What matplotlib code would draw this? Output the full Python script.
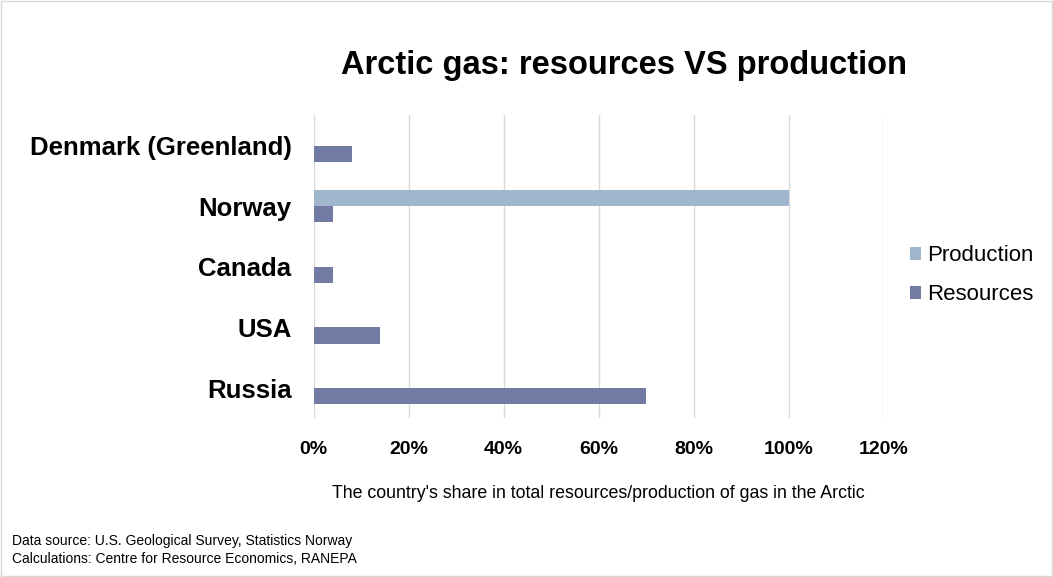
import matplotlib.pyplot as plt
import numpy as np

countries = ['Russia', 'USA', 'Canada', 'Norway', 'Denmark (Greenland)']
resources = [70, 14, 4, 4, 8]
production = [0, 0, 0, 100, 0]
ticks = [0, 20, 40, 60, 80, 100, 120]

plt.rcParams['font.family'] = ['Liberation Sans', 'DejaVu Sans']

fig = plt.figure(figsize=(10.53, 5.77), dpi=100)
ax = fig.add_axes([0.298, 0.275, 0.541, 0.525])

y = np.arange(len(countries))
h = 0.265
ax.barh(y - h / 2, resources, height=h, color='#717ba3', label='Resources')
ax.barh(y + h / 2, production, height=h, color='#a0b6cd', label='Production')

ax.set_xlim(0, 120)
ax.set_ylim(-0.5, 4.5)
ax.set_xticks(ticks)
ax.set_xticklabels([f'{t}%' for t in ticks], fontsize=14, fontweight='bold')
ax.set_yticks(y)
ax.set_yticklabels(countries, fontsize=18.5, fontweight='bold')
ax.tick_params(length=0)
ax.tick_params(axis='y', pad=16)
ax.tick_params(axis='x', pad=16)
ax.xaxis.grid(True, color='#d9d9d9', linewidth=1)
ax.set_axisbelow(True)
for s in ax.spines.values():
    s.set_visible(False)

ax.set_xlabel("The country's share in total resources/production of gas in the Arctic",
              fontsize=12.8, labelpad=20)

handles, labels = ax.get_legend_handles_labels()
fig.legend(handles[::-1], labels[::-1], loc='center left', bbox_to_anchor=(0.845, 0.523),
           frameon=False, fontsize=16, handlelength=0.5, handleheight=0.5,
           handletextpad=0.3, labelspacing=0.8)

fig.text(0.593, 0.887, 'Arctic gas: resources VS production', ha='center', va='center',
         fontsize=23.5, fontweight='bold')
fig.text(0.011, 0.055, 'Data source: U.S. Geological Survey, Statistics Norway', fontsize=10)
fig.text(0.011, 0.025, 'Calculations: Centre for Resource Economics, RANEPA', fontsize=10)

fig.patches.append(plt.Rectangle((0.001, 0.001), 0.998, 0.997, transform=fig.transFigure,
                                 fill=False, edgecolor='#d9d9d9', linewidth=1))

plt.savefig('out.png', dpi=100)
